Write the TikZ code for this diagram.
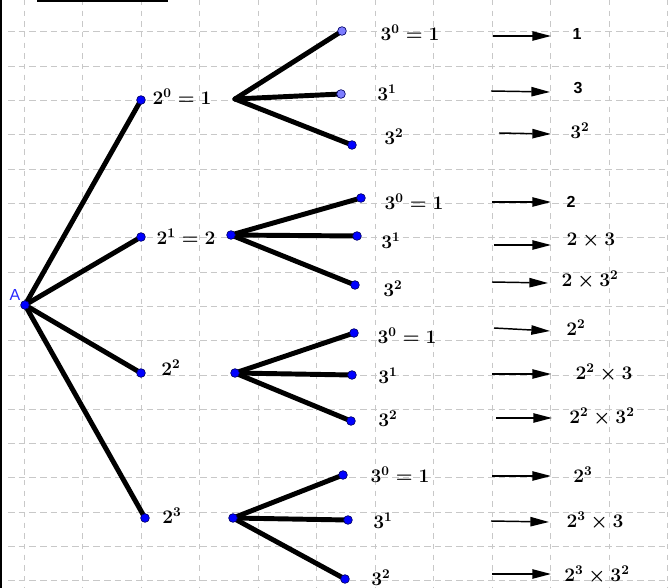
\documentclass[tikz,border=0pt]{standalone}
\usepackage{fontspec}
\setsansfont{Liberation Sans}
\usetikzlibrary{arrows.meta}
\definecolor{gridc}{RGB}{200,200,200}
\definecolor{dotblue}{RGB}{0,0,255}
\definecolor{dotlight}{RGB}{125,125,255}
\definecolor{labblue}{RGB}{40,40,255}
\begin{document}
\begin{tikzpicture}[x=0.75pt,y=-0.75pt,
 gridh/.style={gridc, line width=0.75pt, dash pattern=on 5pt off 3pt},
 gridv/.style={gridc, line width=0.75pt, dash pattern=on 4pt off 4pt},
 branch/.style={line width=3.7pt, line cap=round, line join=round},
 dot/.style={circle, fill=dotblue, draw=black!60!blue, line width=0.5pt, inner sep=0pt, minimum size=6.5pt},
 dotl/.style={dot, fill=dotlight},
 lab/.style={inner sep=0pt, font=\fontsize{14}{16}\selectfont\boldmath},
 ressf/.style={inner sep=0pt, font=\sffamily\bfseries\fontsize{12}{14}\selectfont},
 arr/.style={line width=1.1pt, -{Triangle[length=14pt,width=7pt]}}]
\useasboundingbox (0,0) rectangle (668,588);
\fill[white] (0,0) rectangle (668,588);
% grid
\foreach \k in {0,...,16} \draw[gridh] (8,{32+34.3*\k}) -- (668,{32+34.3*\k});
\foreach \k in {0,...,11} \draw[gridv] ({24+58.5*\k},0) -- ({24+58.5*\k},588);
% page edge fragments
\fill[black] (0,0) rectangle (2,588);
\fill[black] (37,0) rectangle (168,1.8);
% points
\coordinate (A) at (25,305);
\coordinate (p0) at (141,100);
\coordinate (p1) at (141,237);
\coordinate (p2) at (141,373);
\coordinate (p3) at (145,518);
\coordinate (h0) at (235,99);
\coordinate (h1) at (231,235);
\coordinate (h2) at (235,373);
\coordinate (h3) at (233,518);
\coordinate (l00) at (342,31);
\coordinate (l01) at (341,94);
\coordinate (l02) at (352,145);
\coordinate (l10) at (361,198);
\coordinate (l11) at (357,236);
\coordinate (l12) at (355,285);
\coordinate (l20) at (354,333);
\coordinate (l21) at (352,375);
\coordinate (l22) at (351,421);
\coordinate (l30) at (343,475);
\coordinate (l31) at (348,520);
\coordinate (l32) at (345,579);
% branches
\foreach \p in {p0,p1,p2,p3} \draw[branch] (A) -- (\p);
\foreach \g in {0,1,2,3} {
  \foreach \j in {0,1,2} \draw[branch] (h\g) -- (l\g\j);
}
% dots
\node[dot] (dA) at (A) {};
\foreach \p in {p0,p1,p2,p3,h1,h2,h3,l02,l10,l11,l12,l20,l21,l22,l30,l31,l32} \node[dot] (d\p) at (\p) {};
\node[dotl] (dl00) at (l00) {};
\node[dotl] (dl01) at (l01) {};
\node[text=labblue, inner sep=0pt, font=\sffamily\fontsize{12}{14}\selectfont] (labA) at (15,295) {A};
% level-1 labels
\node[lab] (t20) at (182,97) {$2^0=1$};
\node[lab] (t21) at (186,237) {$2^1=2$};
\node[lab] (t22) at (171,368) {$2^2$};
\node[lab] (t23) at (172,516) {$2^3$};
% leaf labels
\node[lab] (u00) at (410,33) {$3^0=1$};
\node[lab] (u01) at (387,93) {$3^1$};
\node[lab] (u02) at (394,137) {$3^2$};
\node[lab] (u10) at (414,202) {$3^0=1$};
\node[lab] (u11) at (391,241) {$3^1$};
\node[lab] (u12) at (393,289) {$3^2$};
\node[lab] (u20) at (407,336) {$3^0=1$};
\node[lab] (u21) at (388,376) {$3^1$};
\node[lab] (u22) at (388,419) {$3^2$};
\node[lab] (u30) at (400,475) {$3^0=1$};
\node[lab] (u31) at (383,521) {$3^1$};
\node[lab] (u32) at (381,578) {$3^2$};
% arrows
\coordinate (s00) at (493,36); \coordinate (e00) at (551,36);
\coordinate (s01) at (491,91); \coordinate (e01) at (550,92);
\coordinate (s02) at (499,133); \coordinate (e02) at (551,134);
\coordinate (s10) at (492,202); \coordinate (e10) at (551,202);
\coordinate (s11) at (494,245); \coordinate (e11) at (551,245);
\coordinate (s12) at (492,282); \coordinate (e12) at (548,283);
\coordinate (s20) at (494,328); \coordinate (e20) at (550,331);
\coordinate (s21) at (492,374); \coordinate (e21) at (551,374);
\coordinate (s22) at (496,418); \coordinate (e22) at (552,418);
\coordinate (s30) at (492,476); \coordinate (e30) at (551,476);
\coordinate (s31) at (491,521); \coordinate (e31) at (549,522);
\coordinate (s32) at (492,574); \coordinate (e32) at (551,574);
\foreach \g in {0,1,2,3} {
  \foreach \j in {0,1,2} \draw[arr] (s\g\j) -- (e\g\j);
}
% results
\node[ressf] (r00) at (577,34) {1};
\node[ressf] (r01) at (578,88) {3};
\node[lab] (r02) at (580,131) {$3^2$};
\node[ressf] (r10) at (571,202) {2};
\node[lab] (r11) at (591,241) {$2\times3$};
\node[lab] (r12) at (590,280) {$2\times3^2$};
\node[lab] (r20) at (576,328) {$2^2$};
\node[lab] (r21) at (604,373) {$2^2\times3$};
\node[lab] (r22) at (602,417) {$2^2\times3^2$};
\node[lab] (r30) at (583,475) {$2^3$};
\node[lab] (r31) at (595,521) {$2^3\times3$};
\node[lab] (r32) at (597,575) {$2^3\times3^2$};
\end{tikzpicture}
\end{document}
